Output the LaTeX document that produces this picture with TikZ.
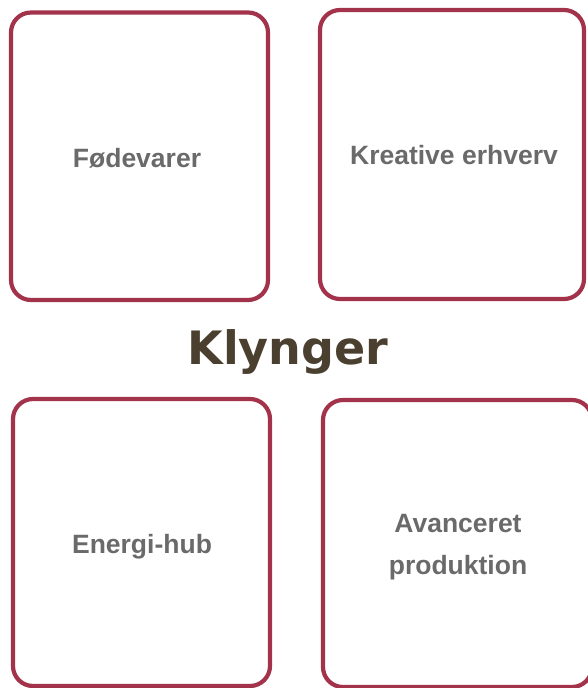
\documentclass[tikz,border=0pt]{standalone}
\usepackage{fontspec}
\setmainfont{Liberation Sans}
\newfontfamily\klfont{DejaVu Sans}
\definecolor{boxred}{HTML}{A3334A}
\definecolor{labelgray}{HTML}{6A6A6A}
\definecolor{titlebrown}{HTML}{4B4030}
\tikzset{
  cluster/.style={draw=boxred, line width=4.2pt, rounded corners=20pt, inner sep=0pt},
  label text/.style={align=center, text=labelgray, inner sep=0pt,
    font=\fontsize{26.5}{42}\selectfont\bfseries},
  titletext/.style={text=titlebrown, font=\klfont\fontsize{46}{50}\selectfont\bfseries, inner sep=0pt}
}
\begin{document}
\begin{tikzpicture}[x=1pt,y=-1pt]
\useasboundingbox (0,0) rectangle (588,688);
\clip (0,0) rectangle (588,688);
\node[cluster, minimum width=257pt, minimum height=287.5pt] (fode) at (139.5,156.25) {};
\node[cluster, minimum width=264pt, minimum height=289pt] (krea) at (452,154.5) {};
\node[cluster, minimum width=257pt, minimum height=287pt] (ener) at (141.5,542.5) {};
\node[cluster, minimum width=269pt, minimum height=287pt] (avan) at (457.5,543.5) {};
\node[label text] (fodet) at (137,158) {Fødevarer};
\node[label text] (kreat) at (454,155) {Kreative erhverv};
\node[label text] (enert) at (142,547) {Energi-hub};
\node[label text] (avant) at (458,547) {Avanceret\\produktion};
\node[titletext] (klynger) at (288,352) {Klynger};
\end{tikzpicture}
\end{document}
